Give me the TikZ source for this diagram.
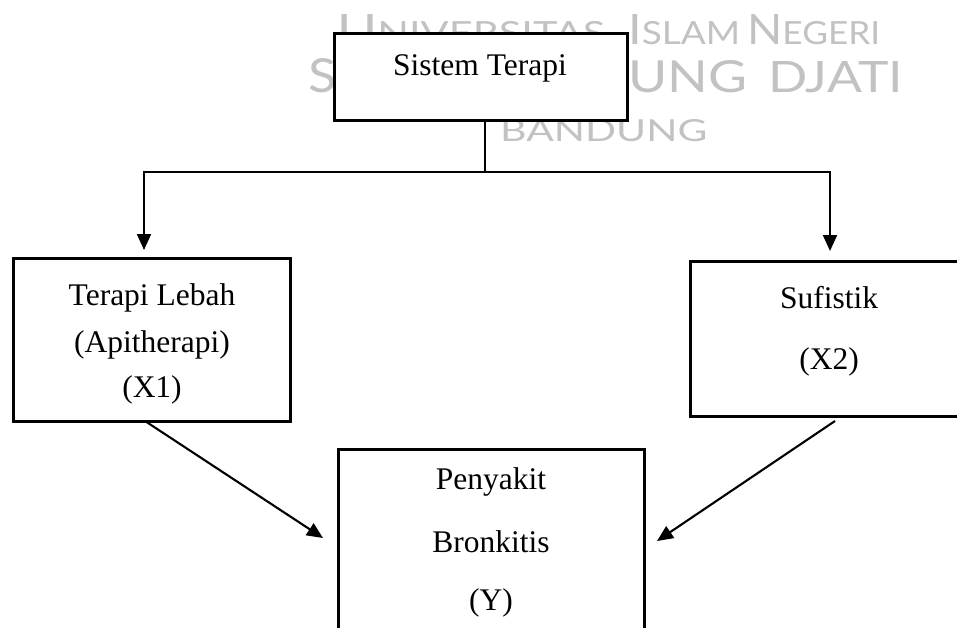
\documentclass[tikz,border=0pt]{standalone}
\usepackage{graphicx}
\usepackage{fontspec}
\setmainfont{Liberation Serif}
\newfontfamily\wmfont{Lato}
\usetikzlibrary{arrows.meta}
\tikzset{
  boxline/.style={draw=black, line width=3pt, fill=white},
  lbl/.style={inner sep=0pt, font=\fontsize{31.5}{36}\selectfont, anchor=center},
  conn/.style={draw=black, line width=2.1pt},
  arr/.style={conn, -{Triangle[length=16pt,width=14pt]}},
  wm/.style={inner sep=0pt, text=black!24, anchor=base west, font=\wmfont},
}
% small-caps word: big initial, smaller rest, stretched to width #3 and cap height #4
\newcommand{\wmsc}[4]{\resizebox{#3}{#4}{\fontsize{42}{42}\selectfont #1\fontsize{32}{32}\selectfont #2}}
\newcommand{\wmcaps}[3]{\resizebox{#2}{#3}{\fontsize{42}{42}\selectfont #1}}
\begin{document}
\begin{tikzpicture}[x=1pt,y=-1pt]
\clip (0,0) rectangle (957,628);
\fill[white] (0,0) rectangle (957,628);
% watermark
\node[wm] (wm1a) at (337,45) {\wmsc{U}{NIVERSITAS}{268pt}{30pt}};
\node[wm] (wm1b) at (628,45) {\wmsc{I}{SLAM}{112pt}{30pt}};
\node[wm] (wm1c) at (747,45) {\wmsc{N}{EGERI}{133pt}{30pt}};
\node[wm] (wm2a) at (308,93) {\wmcaps{SUNAN}{182pt}{34pt}};
\node[wm] (wm2b) at (509,93) {\wmcaps{GUNUNG}{238pt}{32pt}};
\node[wm] (wm2c) at (768,93) {\wmcaps{DJATI}{135pt}{31pt}};
\node[wm] (wm3) at (500,142) {\wmcaps{BANDUNG}{207pt}{22pt}};
% boxes
\path[boxline] (334,34) rectangle (627,121);
\node[lbl] (t1) at (480,68) {Sistem Terapi};
\path[boxline] (13,258) rectangle (290,421);
\node[lbl] (a1) at (152,298) {Terapi Lebah};
\node[lbl] (a2) at (152,345) {(Apitherapi)};
\node[lbl] (a3) at (152,390) {(X1)};
\path[boxline] (690,261) rectangle (970,416);
\node[lbl] (b1) at (829,298) {Sufistik};
\node[lbl] (b2) at (829,362) {(X2)};
\path[boxline] (338,449) rectangle (644,650);
\node[lbl] (c1) at (491,482) {Penyakit};
\node[lbl] (c2) at (491,542) {Bronkitis};
\node[lbl] (c3) at (491,603) {(Y)};
% connector coordinates
\coordinate (topout) at (485,121);
\coordinate (split) at (485,172);
\coordinate (lcorner) at (144,172);
\coordinate (rcorner) at (830,172);
\coordinate (ltip) at (144,250);
\coordinate (rtip) at (830,251);
\coordinate (x1out) at (145,421);
\coordinate (x2out) at (835,421);
\coordinate (yinl) at (323,538);
\coordinate (yinr) at (657,541);
\draw[conn] (topout) -- (split);
\draw[arr] (split) -- (lcorner) -- (ltip);
\draw[arr] (split) -- (rcorner) -- (rtip);
\draw[arr] (x1out) -- (yinl);
\draw[arr] (x2out) -- (yinr);
\end{tikzpicture}
\end{document}
